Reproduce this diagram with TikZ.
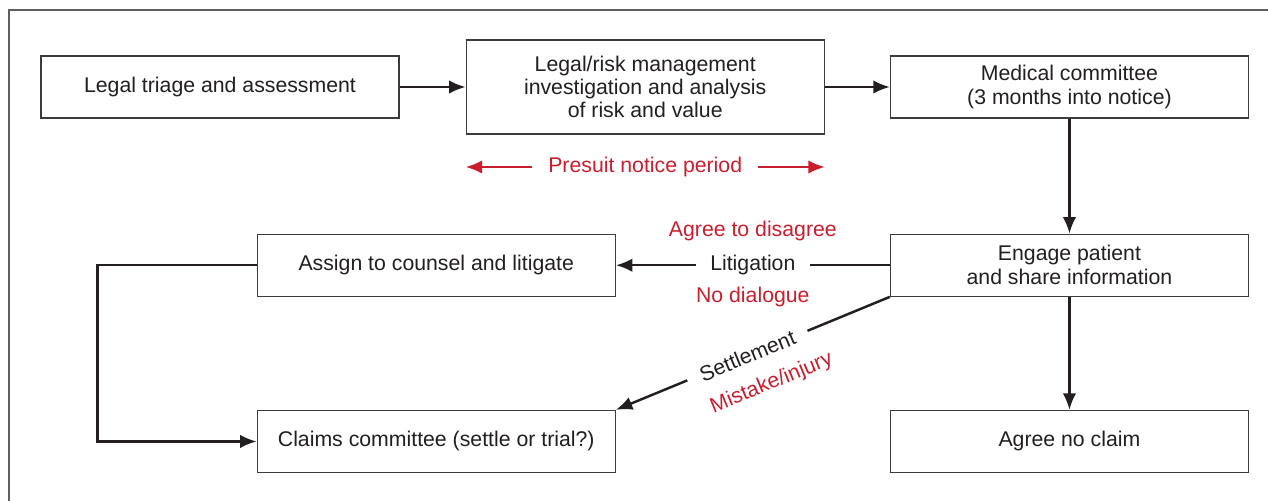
\documentclass[tikz,border=0pt]{standalone}
\usepackage{fontspec}
\setmainfont{Liberation Sans}
\usetikzlibrary{arrows.meta,positioning,calc}
\definecolor{linegray}{RGB}{35,31,32}
\definecolor{boxgray}{RGB}{60,60,60}
\definecolor{framegray}{RGB}{95,95,95}
\definecolor{notered}{RGB}{200,30,45}

\begin{document}
\begin{tikzpicture}[
    node distance=1.3cm,
    box/.style={rectangle,draw=boxgray,line width=0.7pt,fill=white,minimum width=7.16cm,
                minimum height=1.24cm,align=center,text=linegray,
                font=\fontsize{12.1}{13.6}\selectfont},
    arrow/.style={-{Latex[length=3.3mm,width=2.7mm]},line width=1.4pt,draw=linegray},
    plain/.style={line width=1.4pt,draw=linegray},
    lbl/.style={font=\fontsize{12.1}{13}\selectfont,text=linegray},
    redlbl/.style={font=\fontsize{12.1}{13}\selectfont,text=notered}
]
    \useasboundingbox (0,0) rectangle (25.36,-10.02);
    % frame
    \draw[framegray,line width=0.8pt] (25.36,-0.2) -- (0.18,-0.2) -- (0.18,-10.02);

    \node[box] (triage) at (4.4,-1.74) {Legal triage and assessment};
    \node[box,minimum height=1.88cm,right=1.32cm of triage,
          font=\fontsize{12.1}{13}\selectfont] (investigate)
        {Legal/risk management\\investigation and analysis\\of risk and value};
    \node[box,right=1.3cm of investigate,font=\fontsize{12.1}{14.2}\selectfont] (medical)
        {Medical committee\\(3 months into notice)};
    \node[box,below=2.3cm of medical] (engage) {Engage patient\\and share information};
    \node[box,below=2.26cm of engage] (noclaim) {Agree no claim};
    \node[box,left=5.48cm of engage] (counsel) {Assign to counsel and litigate};
    \node[box,below=2.26cm of counsel] (claims) {Claims committee (settle or trial?)};

    \draw[arrow] (triage)--(investigate);
    \draw[arrow] (investigate)--(medical);
    \draw[arrow] (medical)--(engage);
    \draw[arrow] (engage)--(noclaim);

    % presuit notice period
    \node[redlbl] (presuit) at (investigate.south |- 0,-3.34) {Presuit notice period};
    \coordinate (pleft) at (investigate.west |- presuit);
    \coordinate (pright) at (investigate.east |- presuit);
    \draw[arrow,draw=notered] ([xshift=-0.2cm]presuit.west) -- (pleft);
    \draw[arrow,draw=notered] ([xshift=0.2cm]presuit.east) -- (pright);

    % litigation
    \node[lbl,fill=white,inner xsep=8pt] (litig) at ($(counsel.east)!0.5!(engage.west)$) {Litigation};
    \draw[plain] (engage.west) -- (litig.east);
    \draw[arrow] (litig.west) -- (counsel.east);
    \node[redlbl,above=1pt of litig] (agree) {Agree to disagree};
    \node[redlbl,below=0pt of litig] (nodial) {No dialogue};

    % settlement
    \draw[arrow] (engage.south west) -- (claims.north east)
        node[lbl,pos=0.52,sloped,fill=white,inner xsep=8pt] (settle) {Settlement}
        node[redlbl,pos=0.48,sloped,below=0.36cm] (mistake) {Mistake/injury};

    % back to claims committee
    \coordinate (bend) at ($(counsel.west)+(-3.18,0)$);
    \draw[arrow] (counsel.west) -- (bend) |- (claims.west);
\end{tikzpicture}
\end{document}
